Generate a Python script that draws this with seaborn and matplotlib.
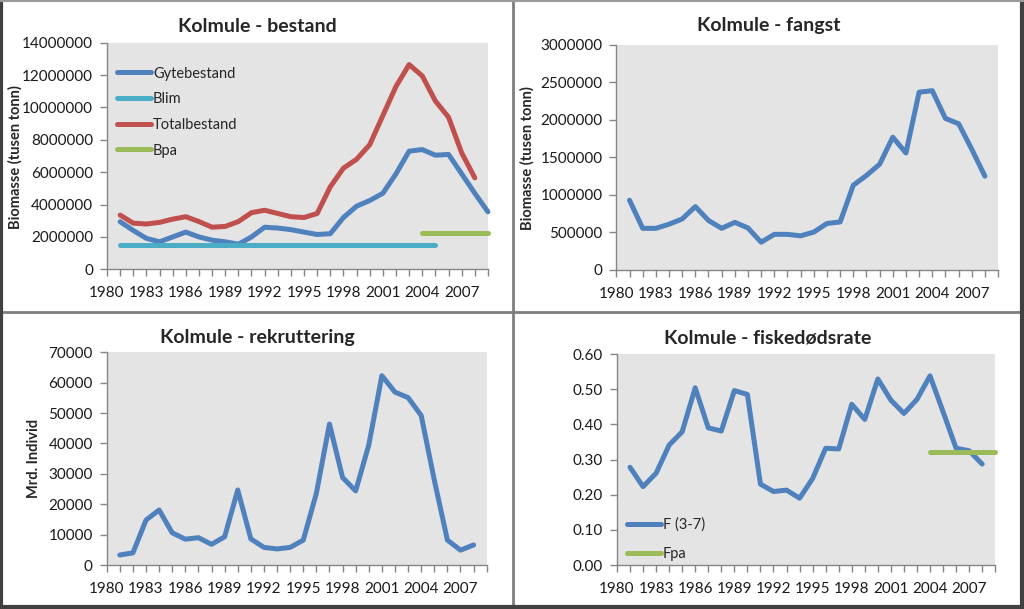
import matplotlib
matplotlib.use("Agg")
import matplotlib.pyplot as plt
import seaborn as sns
from matplotlib.lines import Line2D

# data
years_29 = list(range(1981, 2010))
years_28 = list(range(1981, 2009))

gytebestand = [2940000, 2400000, 1910000, 1700000, 2000000, 2300000, 2000000, 1800000,
               1700000, 1550000, 2000000, 2600000, 2550000, 2450000, 2300000, 2150000,
               2200000, 3200000, 3900000, 4250000, 4700000, 5900000, 7300000, 7400000,
               7050000, 7100000, 5900000, 4700000, 3550000]
totalbestand = [3350000, 2850000, 2800000, 2900000, 3100000, 3250000, 2950000, 2600000,
                2650000, 2950000, 3500000, 3650000, 3450000, 3250000, 3200000, 3450000,
                5100000, 6250000, 6800000, 7700000, 9500000, 11300000, 12650000, 11950000,
                10400000, 9400000, 7200000, 5650000]
blim_years = list(range(1981, 2006))
blim = [1500000] * len(blim_years)
bpa_years = list(range(2004, 2010))
bpa = [2250000] * len(bpa_years)

fangst = [930000, 555000, 555000, 610000, 680000, 845000, 660000, 555000, 635000, 560000,
          370000, 475000, 475000, 455000, 505000, 620000, 640000, 1130000, 1260000,
          1410000, 1770000, 1560000, 2370000, 2390000, 2020000, 1950000, 1610000, 1250000]

rekruttering = [3300, 4000, 14800, 18100, 10600, 8500, 9000, 6800, 9300, 24700, 8600,
                5800, 5300, 5800, 8200, 23600, 46400, 28800, 24400, 39500, 62300, 56900,
                55100, 49200, 28000, 8200, 4900, 6600]

f37 = [0.278, 0.223, 0.261, 0.341, 0.379, 0.504, 0.390, 0.381, 0.496, 0.485, 0.230,
       0.209, 0.213, 0.190, 0.246, 0.332, 0.330, 0.457, 0.414, 0.529, 0.469, 0.431,
       0.471, 0.538, 0.436, 0.332, 0.325, 0.287]
fpa_years = list(range(2004, 2010))
fpa = [0.32] * len(fpa_years)

year_ticks = list(range(1980, 2010))
year_labels = [str(y) if (y - 1980) % 3 == 0 else "" for y in year_ticks]

BLUE = "#4F81BD"
RED = "#C0504D"
CYAN = "#4BACC6"
GREEN = "#9BBB59"
PLOT_BG = "#E4E4E4"
AXIS_C = "#868686"
LW = 3.6

sns.set_style("white")
plt.rcParams["font.family"] = ["Lato", "DejaVu Sans"]

fig = plt.figure(figsize=(10.24, 6.09), dpi=100)

ax1 = fig.add_axes([0.1045, 0.5578, 0.372, 0.372])
ax2 = fig.add_axes([0.6019, 0.5567, 0.3728, 0.3695])
ax3 = fig.add_axes([0.1042, 0.0722, 0.3711, 0.3493])
ax4 = fig.add_axes([0.6025, 0.0722, 0.3694, 0.3465])


def style(ax, yticks, fmt):
    ax.set_facecolor(PLOT_BG)
    ax.set_xlim(1980, 2009)
    ax.set_ylim(yticks[0], yticks[-1])
    ax.set_xticks(year_ticks)
    ax.set_xticklabels(year_labels)
    ax.set_yticks(yticks)
    ax.set_yticklabels([fmt(v) for v in yticks])
    for s in ["top", "right"]:
        ax.spines[s].set_visible(False)
    for s in ["left", "bottom"]:
        ax.spines[s].set_color(AXIS_C)
        ax.spines[s].set_linewidth(1.0)
    ax.tick_params(axis="both", direction="out", length=5, width=1, color=AXIS_C,
                   labelsize=11, labelcolor="#1A1A1A", bottom=True, left=True)
    ax.tick_params(axis="x", pad=7)
    ax.tick_params(axis="y", pad=5)
    ax.set_xlabel("")
    ax.set_ylabel("")


def draw(ax, x, y, color, label):
    sns.lineplot(x=x, y=y, ax=ax, color=color, linewidth=LW, label=label,
                 solid_capstyle="round", clip_on=False)


def title(x, y, text):
    fig.text(x / 1024, 1 - y / 609, text, fontsize=14, fontweight="bold",
             ha="center", va="center")


def ylabel(x, y, text):
    fig.text(x / 1024, 1 - y / 609, text, fontsize=10.5, fontweight="bold",
             rotation=90, ha="center", va="center")


# panel 1: bestand
draw(ax1, years_29, gytebestand, BLUE, "Gytebestand")
draw(ax1, blim_years, blim, CYAN, "Blim")
draw(ax1, years_28, totalbestand, RED, "Totalbestand")
draw(ax1, bpa_years, bpa, GREEN, "Bpa")
style(ax1, list(range(0, 14000001, 2000000)), lambda v: f"{v:d}")
title(257, 26, "Kolmule - bestand")
ylabel(15, 157, "Biomasse (tusen tonn)")
ax1.legend(loc="upper left", frameon=False, fontsize=10.5, handlelength=2.3,
           handletextpad=0.15, labelspacing=0.8, borderaxespad=0.3,
           bbox_to_anchor=(0.0, 0.94))

# panel 2: fangst
draw(ax2, years_28, fangst, BLUE, None)
style(ax2, list(range(0, 3000001, 500000)), lambda v: f"{v:d}")
title(769, 26, "Kolmule - fangst")
ylabel(527, 158, "Biomasse (tusen tonn)")

# panel 3: rekruttering
draw(ax3, years_28, rekruttering, BLUE, None)
style(ax3, list(range(0, 70001, 10000)), lambda v: f"{v:d}")
title(257, 338, "Kolmule - rekruttering")
ylabel(34, 458, "Mrd. Individ")

# panel 4: fiskedødsrate
draw(ax4, years_28, f37, BLUE, "F (3-7)")
draw(ax4, fpa_years, fpa, GREEN, "Fpa")
style(ax4, [0.0, 0.1, 0.2, 0.3, 0.4, 0.5, 0.6], lambda v: f"{v:.2f}")
title(768, 338, "Kolmule - fiskedødsrate")
ax4.legend(loc="lower left", frameon=False, fontsize=10.5, handlelength=2.3,
           handletextpad=0.15, labelspacing=1.05, borderaxespad=0.3,
           bbox_to_anchor=(0.0, -0.03))

for ax in (ax1, ax2, ax3, ax4):
    for line in ax.get_lines():
        line.set_solid_capstyle("round")

# panel frames
frame = dict(color="#7F7F7F", linewidth=2.0, transform=fig.transFigure)
fig.add_artist(Line2D([513 / 1024, 513 / 1024], [0, 1], **frame))
fig.add_artist(Line2D([0, 1], [1 - 312 / 609, 1 - 312 / 609], **frame))
outer = dict(color="#404040", linewidth=3.0, transform=fig.transFigure)
fig.add_artist(Line2D([0.001, 0.001], [0, 1], **outer))
fig.add_artist(Line2D([0.998, 0.998], [0, 1], **outer))
fig.add_artist(Line2D([0, 1], [0.003, 0.003], **outer))
fig.add_artist(Line2D([0, 1], [0.998, 0.998], **dict(outer, color="#9A9A9A", linewidth=1.5)))

fig.savefig("out.png", dpi=100, facecolor="white")
